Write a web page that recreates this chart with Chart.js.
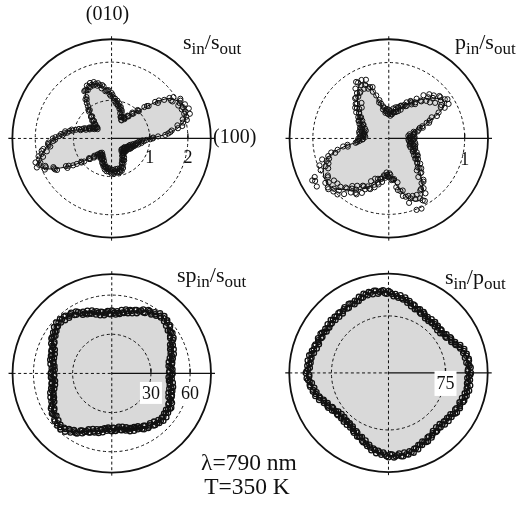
<!DOCTYPE html>
<html><head><meta charset="utf-8">
<script src="https://cdn.jsdelivr.net/npm/chart.js@4.4.1/dist/chart.umd.min.js"></script>
<style>
html,body{margin:0;padding:0;background:#fff;}
#wrap{position:relative;width:517px;height:506px;overflow:hidden;font-family:"Liberation Serif","Times New Roman",serif;color:#111;}
#c{position:absolute;left:0;top:0;}
.t{position:absolute;white-space:nowrap;line-height:1;}
.t sub{font-size:17px;vertical-align:-5px;line-height:1;}
.ttl{font-size:22px;}
</style></head>
<body><div id="wrap">
<canvas id="c" width="517" height="506"></canvas>
<div class="t" style="font-size:20px;left:107.5px;top:2.5px;transform:translateX(-50%);">(010)</div>
<div class="t" style="font-size:20px;left:213px;top:126px;">(100)</div>
<div class="t ttl" style="left:183px;top:30.9px;">s<sub>in</sub>/s<sub>out</sub></div>
<div class="t ttl" style="left:455px;top:30.9px;">p<sub>in</sub>/s<sub>out</sub></div>
<div class="t ttl" style="left:177px;top:264.3px;">sp<sub>in</sub>/s<sub>out</sub></div>
<div class="t ttl" style="left:445px;top:265.6px;">s<sub>in</sub>/p<sub>out</sub></div>
<div class="t" style="font-size:23.5px;left:249px;top:451px;transform:translateX(-50%);">λ=790 nm</div>
<div class="t" style="font-size:23.5px;left:247px;top:475.3px;transform:translateX(-50%);">T=350 K</div>
</div>
<script>
// ---- angle grids (degrees, counter-clockwise from (100)) ----
const fitAngles = [0,5,10,15,20,25,30,35,40,45,50,55,60,65,70,75,80,85,90,95,100,105,110,115,120,125,130,135,140,145,150,155,160,165,170,175,180,185,190,195,200,205,210,215,220,225,230,235,240,245,250,255,260,265,270,275,280,285,290,295,300,305,310,315,320,325,330,335,340,345,350,355];
const scanAnglesA = [0,2.5,5,7.5,10,12.5,15,17.5,20,22.5,25,27.5,30,32.5,35,37.5,40,42.5,45,47.5,50,52.5,55,57.5,60,62.5,65,67.5,70,72.5,75,77.5,80,82.5,85,87.5,90,92.5,95,97.5,100,102.5,105,107.5,110,112.5,115,117.5,120,122.5,125,127.5,130,132.5,135,137.5,140,142.5,145,147.5,150,152.5,155,157.5,160,162.5,165,167.5,170,172.5,175,177.5,180,182.5,185,187.5,190,192.5,195,197.5,200,202.5,205,207.5,210,212.5,215,217.5,220,222.5,225,227.5,230,232.5,235,237.5,240,242.5,245,247.5,250,252.5,255,257.5,260,262.5,265,267.5,270,272.5,275,277.5,280,282.5,285,287.5,290,292.5,295,297.5,300,302.5,305,307.5,310,312.5,315,317.5,320,322.5,325,327.5,330,332.5,335,337.5,340,342.5,345,347.5,350,352.5,355,357.5];
const scanAnglesB = [1.25,3.75,6.25,8.75,11.25,13.75,16.25,18.75,21.25,23.75,26.25,28.75,31.25,33.75,36.25,38.75,41.25,43.75,46.25,48.75,51.25,53.75,56.25,58.75,61.25,63.75,66.25,68.75,71.25,73.75,76.25,78.75,81.25,83.75,86.25,88.75,91.25,93.75,96.25,98.75,101.25,103.75,106.25,108.75,111.25,113.75,116.25,118.75,121.25,123.75,126.25,128.75,131.25,133.75,136.25,138.75,141.25,143.75,146.25,148.75,151.25,153.75,156.25,158.75,161.25,163.75,166.25,168.75,171.25,173.75,176.25,178.75,181.25,183.75,186.25,188.75,191.25,193.75,196.25,198.75,201.25,203.75,206.25,208.75,211.25,213.75,216.25,218.75,221.25,223.75,226.25,228.75,231.25,233.75,236.25,238.75,241.25,243.75,246.25,248.75,251.25,253.75,256.25,258.75,261.25,263.75,266.25,268.75,271.25,273.75,276.25,278.75,281.25,283.75,286.25,288.75,291.25,293.75,296.25,298.75,301.25,303.75,306.25,308.75,311.25,313.75,316.25,318.75,321.25,323.75,326.25,328.75,331.25,333.75,336.25,338.75,341.25,343.75,346.25,348.75,351.25,353.75,356.25,358.75];

// ---- panel 1: s_in/s_out ----
const fit1 = [1.02,1.48,1.82,2.00,2.08,2.07,1.98,1.83,1.45,1.05,
 0.85,0.70,0.57,0.60,0.74,0.84,0.92,1.02,1.13,1.25,
 1.38,1.47,1.51,1.50,1.37,1.12,0.88,0.69,0.56,0.48,
 0.53,0.63,0.73,0.88,1.13,1.30,1.48,1.65,1.80,1.93,
 2.04,1.88,1.55,1.22,0.90,0.68,0.56,0.50,0.52,0.58,
 0.66,0.74,0.80,0.84,0.86,0.87,0.87,0.86,0.80,0.70,
 0.60,0.52,0.46,0.43,0.44,0.46,0.49,0.53,0.57,0.62,
 0.70,0.82];
const scanA1 = [1.08,1.22,1.49,1.59,1.88,1.92,1.93,2.15,2.06,1.99,2.12,2.01,
 2.08,1.85,1.85,1.53,1.49,1.26,1.01,1.01,0.84,0.73,0.73,0.63,
 0.63,0.55,0.61,0.61,0.78,0.80,0.80,0.94,0.91,0.92,1.05,1.07,
 1.19,1.16,1.26,1.25,1.42,1.43,1.43,1.55,1.50,1.46,1.53,1.43,
 1.43,1.21,1.13,0.94,0.92,0.79,0.65,0.69,0.55,0.47,0.51,0.50,
 0.59,0.55,0.64,0.62,0.77,0.81,0.84,1.07,1.12,1.17,1.33,1.38,
 1.54,1.53,1.67,1.62,1.86,1.88,1.86,2.09,2.02,1.88,1.93,1.70,
 1.65,1.33,1.23,1.00,0.94,0.80,0.64,0.68,0.55,0.48,0.53,0.50,
 0.58,0.52,0.59,0.56,0.70,0.71,0.70,0.83,0.79,0.77,0.87,0.84,
 0.92,0.83,0.88,0.81,0.91,0.87,0.82,0.89,0.79,0.70,0.73,0.64,
 0.66,0.53,0.53,0.43,0.50,0.45,0.39,0.50,0.43,0.40,0.49,0.47,
 0.55,0.48,0.54,0.49,0.61,0.60,0.58,0.72,0.69,0.71,0.85,0.91];
const scanB1 = [1.09,1.41,1.55,1.76,1.76,2.03,2.04,2.01,2.17,2.04,1.95,2.06,
 1.87,1.95,1.71,1.59,1.29,1.19,1.01,0.87,0.87,0.72,0.61,0.64,
 0.54,0.64,0.62,0.73,0.70,0.86,0.87,0.87,1.00,0.97,0.99,1.14,
 1.12,1.27,1.27,1.38,1.34,1.49,1.49,1.47,1.56,1.48,1.41,1.44,
 1.27,1.23,1.05,0.97,0.77,0.78,0.67,0.57,0.60,0.48,0.44,0.55,
 0.51,0.65,0.64,0.73,0.71,0.89,0.96,1.04,1.23,1.24,1.29,1.47,
 1.48,1.66,1.66,1.81,1.73,1.97,1.98,1.97,2.10,1.88,1.70,1.69,
 1.40,1.39,1.13,1.01,0.78,0.78,0.66,0.56,0.60,0.49,0.45,0.55,
 0.49,0.61,0.59,0.67,0.62,0.76,0.77,0.76,0.87,0.81,0.79,0.89,
 0.82,0.92,0.86,0.90,0.81,0.91,0.86,0.79,0.83,0.70,0.62,0.66,
 0.54,0.59,0.49,0.50,0.39,0.48,0.45,0.41,0.50,0.43,0.41,0.52,
 0.46,0.57,0.53,0.59,0.52,0.65,0.65,0.65,0.79,0.77,0.81,1.01];
const rings1 = [1, 2];
const tickLabels1 = ['1', '2'];
const outer1 = 2.6;

// ---- panel 2: p_in/s_out ----
const fit2 = [0.30,0.30,0.31,0.37,0.48,0.66,0.84,0.88,0.82,0.75,
 0.67,0.60,0.53,0.48,0.43,0.39,0.36,0.34,0.34,0.36,
 0.40,0.52,0.74,0.81,0.79,0.71,0.64,0.58,0.52,0.47,
 0.42,0.39,0.37,0.36,0.35,0.35,0.36,0.38,0.58,0.78,
 0.89,0.95,0.99,1.00,0.99,0.95,0.88,0.83,0.78,0.72,
 0.66,0.60,0.55,0.50,0.47,0.53,0.64,0.76,0.86,0.91,
 0.88,0.78,0.66,0.57,0.50,0.45,0.40,0.36,0.34,0.32,
 0.31,0.30];
const scanA2 = [0.34,0.28,0.31,0.26,0.34,0.35,0.34,0.47,0.47,0.54,0.70,0.74,
 0.91,0.82,0.90,0.77,0.87,0.79,0.70,0.79,0.65,0.57,0.64,0.56,
 0.57,0.48,0.49,0.41,0.46,0.42,0.36,0.42,0.35,0.32,0.36,0.34,
 0.38,0.33,0.37,0.34,0.43,0.47,0.49,0.71,0.72,0.71,0.85,0.79,
 0.86,0.71,0.73,0.59,0.69,0.62,0.55,0.60,0.51,0.46,0.49,0.44,
 0.46,0.38,0.40,0.34,0.40,0.37,0.33,0.40,0.34,0.32,0.37,0.35,
 0.40,0.35,0.39,0.44,0.61,0.69,0.73,0.92,0.87,0.86,0.99,1.10,
 1.12,0.95,1.02,0.91,1.04,0.98,0.90,1.00,0.86,0.79,0.87,0.80,
 0.85,0.71,0.74,0.61,0.71,0.64,0.55,0.62,0.54,0.49,0.52,0.48,
 0.51,0.48,0.54,0.54,0.69,0.71,0.71,0.89,0.84,0.82,1.02,0.89,
 0.95,0.79,0.80,0.64,0.71,0.62,0.54,0.58,0.49,0.44,0.47,0.42,
 0.44,0.36,0.37,0.31,0.37,0.34,0.29,0.36,0.30,0.27,0.32,0.30];
const scanB2 = [0.27,0.34,0.29,0.33,0.28,0.39,0.41,0.43,0.57,0.59,0.63,0.84,
 0.80,0.93,0.85,0.87,0.72,0.82,0.75,0.65,0.73,0.59,0.54,0.57,
 0.49,0.53,0.46,0.46,0.38,0.43,0.39,0.35,0.40,0.33,0.30,0.37,
 0.32,0.39,0.36,0.41,0.39,0.52,0.59,0.65,0.83,0.77,0.73,0.84,
 0.72,0.79,0.68,0.69,0.54,0.63,0.58,0.52,0.55,0.47,0.42,0.46,
 0.38,0.43,0.38,0.40,0.32,0.39,0.37,0.33,0.39,0.34,0.31,0.38,
 0.34,0.41,0.42,0.55,0.55,0.78,0.83,0.83,0.98,0.91,0.89,1.15,
 0.94,1.14,0.98,1.03,0.90,1.01,0.95,0.86,0.94,0.82,0.75,0.84,
 0.71,0.80,0.69,0.71,0.56,0.67,0.60,0.54,0.58,0.50,0.45,0.50,
 0.46,0.55,0.55,0.65,0.59,0.78,0.80,0.80,1.01,0.87,0.83,0.93,
 0.80,0.87,0.73,0.73,0.56,0.62,0.56,0.50,0.53,0.45,0.40,0.44,
 0.36,0.41,0.35,0.37,0.29,0.36,0.33,0.29,0.35,0.29,0.26,0.33];
const rings2 = [1];
const tickLabels2 = ['1'];
const outer2 = 1.307;

// ---- panel 3: sp_in/s_out ----
const fit3 = [45,45.3,46,47.2,48.8,50.8,53,55,56.8,57.8,
 57.8,56.5,54.5,52.8,50.8,49,47.8,47,46.6,46.6,
 47,48,49.5,51.3,53.2,55,56,56.3,55.5,54,
 51.8,49.8,48.2,47,46,45.4,45.2,45.3,45.8,46.8,
 48.3,50.2,52.2,54.3,56,56.8,56,54.4,51.6,49.2,
 47.2,45.5,44.2,43.3,42.8,42.8,43.2,44,45.2,46.5,
 47.8,49.3,50.7,51.6,52,51.8,51,49.6,48,46.8,
 45.8,45.3];
const scanA3 = [46.6,44.2,45.7,43.9,47.0,46.8,46.0,49.8,48.4,48.4,51.6,51.7,
 54.6,53.0,55.4,54.1,57.8,57.5,56.6,59.6,57.4,55.8,57.3,55.3,
 56.1,52.7,53.2,50.0,51.8,50.1,47.8,50.2,47.4,46.0,47.8,46.6,
 48.2,45.6,47.0,45.0,48.0,47.7,46.8,50.6,49.1,49.0,52.1,52.0,
 54.8,53.1,55.4,53.7,57.0,56.4,55.1,57.7,55.1,53.4,54.8,52.7,
 53.4,49.8,50.2,47.2,49.2,47.8,45.8,48.3,45.6,44.3,46.2,45.1,
 46.8,44.3,45.7,43.8,46.8,46.5,45.6,49.4,47.9,47.9,51.0,51.0,
 53.8,52.3,54.7,53.4,57.0,56.6,55.6,58.2,55.6,53.8,55.2,52.8,
 53.2,49.4,49.6,46.4,48.2,46.6,44.3,46.7,43.8,42.4,44.1,42.9,
 44.4,41.8,43.2,41.2,44.2,43.8,42.8,46.4,44.8,44.5,47.3,47.0,
 49.4,47.6,49.7,48.2,51.7,51.4,50.4,53.6,51.6,50.5,52.6,51.2,
 52.6,49.3,50.0,47.0,49.0,47.6,45.6,48.1,45.4,44.2,46.1,45.0];
const scanB3 = [43.9,46.6,45.1,46.6,44.5,48.1,48.0,47.6,50.9,49.7,49.8,53.5,
 52.3,55.9,55.1,57.2,55.3,58.8,58.2,57.0,59.1,56.2,54.4,56.0,
 52.9,54.6,51.9,52.1,48.6,50.7,49.1,47.3,49.2,46.6,45.3,47.7,
 45.4,48.0,46.3,47.7,45.5,49.0,48.8,48.3,51.6,50.3,50.2,53.7,
 52.5,56.0,54.9,56.6,54.3,57.4,56.5,54.9,56.7,53.8,51.9,53.4,
 50.1,51.7,49.0,49.4,46.1,48.5,47.2,45.5,47.5,45.0,43.8,46.3,
 44.0,46.7,45.0,46.5,44.3,47.8,47.6,47.1,50.4,49.1,49.1,52.7,
 51.5,55.2,54.3,56.4,54.4,57.8,57.0,55.4,57.2,54.2,52.1,53.3,
 49.8,51.2,48.3,48.5,45.0,47.1,45.6,43.7,45.6,42.9,41.6,43.9,
 41.6,44.2,42.5,43.9,41.6,45.0,44.7,44.1,47.1,45.6,45.2,48.5,
 47.0,50.3,49.3,51.2,49.1,52.6,52.1,51.1,53.6,51.3,50.0,52.2,
 49.5,51.4,48.8,49.2,45.9,48.3,47.0,45.3,47.3,44.8,43.6,46.1];
const rings3 = [30, 60];
const tickLabels3 = ['30', '60'];
const outer3 = 76;

// ---- panel 4: s_in/p_out ----
const fit4 = [106,106.3,105.7,103.5,100,95.5,91.5,89,88,88,
 88,88.7,90,92,94.5,97.5,100.5,103,105.4,107.5,
 108.3,107.5,105.5,103.5,102.3,101.8,101,100.4,100.2,100.2,
 100.7,101.3,102,103.3,104.8,106,106.3,105.5,103,99.8,
 96.5,92.5,89,86.5,85,84,84.8,86.5,88.5,92,
 95.5,99.5,103.5,107,108.5,109.5,109.8,108.5,106,103.5,
 101.5,99.5,98,97,98.5,100,101.5,103,104.5,105.6,
 106.2,106.4];
const scanA4 = [108.4,104.7,106.9,103.3,107.2,104.9,101.7,104.5,99.4,95.7,96.7,93.2,
 93.9,88.8,89.6,85.8,89.5,88.3,86.2,90.7,87.4,86.3,89.9,89.1,
 92.4,89.5,92.6,90.6,96.0,96.3,95.7,101.7,99.9,99.7,104.2,103.9,
 107.8,105.0,108.1,105.2,109.8,108.2,105.7,109.2,104.9,102.4,104.7,102.6,
 104.7,100.6,102.4,98.7,102.5,101.0,98.6,103.0,99.6,98.1,101.4,100.2,
 103.1,99.5,101.9,99.0,103.5,103.0,101.5,106.8,104.2,103.3,107.2,105.9,
 108.7,104.4,106.1,101.6,104.5,101.7,98.0,100.9,95.9,92.4,93.7,90.5,
 91.4,86.3,87.1,83.1,86.5,84.8,82.2,87.1,84.2,83.6,87.7,87.2,
 90.9,88.8,92.6,91.1,97.0,97.8,97.7,104.2,102.9,103.2,108.2,107.5,
 110.9,107.5,110.1,107.0,111.3,109.5,106.7,110.0,105.4,102.7,104.7,102.2,
 103.9,99.0,100.1,96.1,99.5,97.8,95.2,100.5,97.9,97.2,101.2,100.5,
 103.9,100.8,103.6,101.1,106.0,105.4,103.8,108.6,105.6,104.2,107.6,105.9];
const scanB4 = [104.3,108.3,105.6,107.1,102.5,105.9,103.2,99.7,101.3,95.7,92.1,94.0,
 89.1,91.7,88.2,89.5,85.3,89.8,88.6,86.8,90.6,87.6,86.6,91.2,
 88.7,93.6,92.0,95.1,92.6,98.6,98.9,98.6,103.5,101.5,101.2,106.3,
 104.1,109.1,107.1,109.3,105.4,109.5,107.6,104.8,107.4,103.1,100.8,104.1,
 100.4,104.0,101.0,102.4,98.2,102.4,101.0,99.1,102.6,99.3,97.9,102.1,
 99.1,103.3,100.9,103.0,99.6,104.8,104.3,103.2,107.5,104.8,103.7,107.7,
 104.3,107.8,104.3,104.8,99.5,102.4,99.6,96.1,97.9,92.6,89.2,91.4,
 86.6,89.2,85.5,86.6,82.1,86.1,84.8,83.4,87.6,85.2,84.6,89.5,
 87.6,93.2,92.3,95.8,93.8,100.3,101.1,101.3,106.8,105.2,105.0,109.6,
 107.0,111.4,109.0,110.9,106.8,110.6,108.5,105.4,107.8,103.2,100.6,103.5,
 99.2,102.1,98.5,99.6,95.1,99.1,98.0,96.9,101.3,98.7,98.0,102.6,
 100.1,104.7,102.8,105.3,102.1,107.1,106.4,104.9,108.7,105.5,103.9,107.6];
const rings4 = [75];
const tickLabels4 = ['75'];
const outer4 = 130.5;

// ---- layout (pixels) ----
const W = 517, H = 506, RPX = 101.3;
const panels = [
  {fit: fit1, scans: [scanA1, scanB1], rings: rings1, labels: tickLabels1, boxed: [false, false], outer: outer1, cx: 108.5, cy: 136, labelDy: 19, pw: 1.0},
  {fit: fit2, scans: [scanA2, scanB2], rings: rings2, labels: tickLabels2, boxed: [false], outer: outer2, cx: 391.5, cy: 136, labelDy: 20.5, pw: 1.0},
  {fit: fit3, scans: [scanA3, scanB3], rings: rings3, labels: tickLabels3, boxed: [true, true], outer: outer3, cx: 108.7, cy: 376, labelDy: 19.5, pw: 1.3},
  {fit: fit4, scans: [scanA4, scanB4], rings: rings4, labels: tickLabels4, boxed: [true], outer: outer4, cx: 391.2, cy: 375.5, labelDy: 10.5, pw: 1.3}
];
const scanAngles = [scanAnglesA, scanAnglesB];

function toXY(angles, radii) {
  return radii.map((r, i) => {
    const a = angles[i] * Math.PI / 180;
    return {x: r * Math.cos(a), y: r * Math.sin(a)};
  });
}

const datasets = [];
const scales = {};
panels.forEach((p, i) => {
  const n = i + 1;
  p.xId = 'x' + n; p.yId = 'y' + n;
  const k = p.outer / RPX;
  scales[p.xId] = {type: 'linear', display: false, min: -p.cx * k, max: (W - p.cx) * k};
  scales[p.yId] = {type: 'linear', display: false, min: -(H - p.cy) * k, max: p.cy * k};
  const fitXY = toXY(fitAngles, p.fit);
  fitXY.push(fitXY[0]);
  datasets.push({
    type: 'line', label: 'fit ' + n, data: fitXY, xAxisID: p.xId, yAxisID: p.yId,
    borderColor: '#000', borderWidth: 1, backgroundColor: '#d9d9d9', fill: 'shape',
    pointRadius: 0, tension: 0.35, order: 2
  });
  p.scans.forEach((s, j) => {
    datasets.push({
      type: 'scatter', label: 'data ' + n + (j ? 'b' : 'a'), data: toXY(scanAngles[j], s), xAxisID: p.xId, yAxisID: p.yId,
      pointStyle: 'circle', pointRadius: 2.6, pointBorderWidth: p.pw,
      borderColor: '#111', backgroundColor: 'rgba(0,0,0,0)', showLine: false, order: 1
    });
  });
});

const polarGrid = {
  id: 'polarGrid',
  beforeDatasetsDraw(chart) {
    const ctx = chart.ctx;
    panels.forEach(p => {
      const xs = chart.scales[p.xId], ys = chart.scales[p.yId];
      const cx = xs.getPixelForValue(0), cy = ys.getPixelForValue(0);
      const rp = v => xs.getPixelForValue(v) - cx;
      const R = rp(p.outer);
      ctx.save();
      ctx.strokeStyle = '#111';
      ctx.lineWidth = 1;
      ctx.setLineDash([3, 2.6]);
      p.rings.forEach(v => { ctx.beginPath(); ctx.arc(cx, cy, rp(v), 0, 2 * Math.PI); ctx.stroke(); });
      ctx.beginPath();
      ctx.moveTo(cx - R, cy); ctx.lineTo(cx, cy);
      ctx.moveTo(cx, cy - R - 3); ctx.lineTo(cx, cy + R + 3);
      ctx.stroke();
      ctx.setLineDash([]);
      ctx.lineWidth = 1.3;
      ctx.beginPath();
      ctx.moveTo(cx, cy); ctx.lineTo(cx + R + 4, cy);
      ctx.moveTo(cx - R - 4, cy); ctx.lineTo(cx - R, cy);
      p.rings.forEach(v => { const x = cx + rp(v); ctx.moveTo(x, cy); ctx.lineTo(x, cy - 5); });
      ctx.stroke();
      ctx.lineWidth = 1.8;
      ctx.beginPath(); ctx.arc(cx, cy, R, 0, 2 * Math.PI); ctx.stroke();
      ctx.restore();
    });
  },
  afterDatasetsDraw(chart) {
    const ctx = chart.ctx;
    panels.forEach(p => {
      const xs = chart.scales[p.xId], ys = chart.scales[p.yId];
      const cy = ys.getPixelForValue(0);
      ctx.save();
      ctx.font = '18px "Liberation Serif", "Times New Roman", serif';
      ctx.textAlign = 'center';
      ctx.textBaseline = 'alphabetic';
      p.rings.forEach((v, j) => {
        const x = xs.getPixelForValue(v);
        const yc = cy + p.labelDy;
        if (p.boxed[j]) {
          const bh = p.labelDy < 15 ? 25 : 22;
          ctx.fillStyle = '#fff';
          ctx.fillRect(x - 11, yc - bh / 2, 22, bh);
        }
        ctx.fillStyle = '#111';
        ctx.fillText(p.labels[j], x, yc + 6);
      });
      ctx.restore();
    });
  }
};

new Chart(document.getElementById('c'), {
  type: 'scatter',
  data: {datasets},
  options: {
    responsive: false, animation: false, devicePixelRatio: 1, events: [],
    layout: {padding: 0},
    scales,
    plugins: {legend: {display: false}, tooltip: {enabled: false}, title: {display: false},
      filler: {drawTime: 'beforeDatasetsDraw'}}
  },
  plugins: [polarGrid]
});
</script>
</body></html>
